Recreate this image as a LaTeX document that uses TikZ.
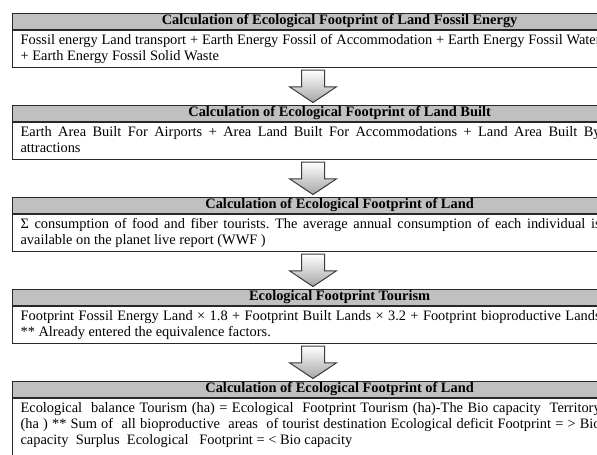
\documentclass[tikz,border=0pt]{standalone}
\usepackage{fontspec}
\setmainfont{Liberation Serif}
\usetikzlibrary{calc}
\frenchspacing
\definecolor{hdrgray}{RGB}{192,192,192}
\definecolor{bordc}{RGB}{40,40,40}
\definecolor{arrc}{RGB}{60,60,60}
\newcommand{\fl}[1]{\strut\makebox[580pt][s]{\spaceskip=0pt\relax\xspaceskip=0pt\relax\frenchspacing #1}}
\newcommand{\blockarr}[2]{%
  \draw[blockarrow] let \p1=(#1.south west), \p2=(#2.north west) in
    (\x1+289.5pt,\y1-2.3pt) -- (\x1+312.5pt,\y1-2.3pt) -- (\x1+312.5pt,\y1-19pt)
    -- (\x1+324.5pt,\y1-19pt) -- (\x1+301pt,\y2+2pt) -- (\x1+277.5pt,\y1-19pt)
    -- (\x1+289.5pt,\y1-19pt) -- cycle;}
\begin{document}
\begin{tikzpicture}[x=1pt,y=-1pt,
  hdr/.style={draw=bordc, fill=hdrgray, line width=1.2pt, minimum width=654pt,
    minimum height=16.5pt, inner sep=0pt, anchor=north west,
    text height=10pt, text depth=3.5pt,
    font=\fontsize{14.4pt}{16pt}\selectfont\bfseries},
  body/.style={draw=bordc, line width=1.2pt, text width=580pt, inner xsep=8pt,
    inner ysep=2.2pt, anchor=north west, align=left,
    font=\fontsize{14.4pt}{16pt}\selectfont,
    execute at begin node={\spaceskip=0pt\relax\xspaceskip=0pt\relax\frenchspacing}},
  blockarrow/.style={draw=arrc, line width=1pt, line join=miter,
    top color=white, bottom color=black!35}]
\useasboundingbox (0,0) rectangle (597,455);
\clip (0,0) rectangle (597,455);
\fill[white] (0,0) rectangle (597,455);

\node[hdr] (h1) at (12,12.5) {Calculation of Ecological Footprint of Land Fossil Energy};
\node[body] (b1) at (h1.south west) {\fl{Fossil energy Land transport + Earth Energy Fossil of Accommodation + Earth Energy Fossil Water}\\\strut + Earth Energy Fossil Solid Waste};

\node[hdr] (h2) at (12,104.5) {Calculation of Ecological Footprint of Land Built};
\node[body] (b2) at (h2.south west) {\fl{Earth Area Built For Airports + Area Land Built For Accommodations + Land Area Built By}\\\strut attractions};

\node[hdr] (h3) at (12,196.5) {Calculation of Ecological Footprint of Land};
\node[body] (b3) at (h3.south west) {\fl{Σ consumption of food and fiber tourists. The average annual consumption of each individual is}\\\strut available on the planet live report (WWF )};

\node[hdr] (h4) at (12,288.5) {Ecological Footprint Tourism};
\node[body] (b4) at (h4.south west) {\fl{Footprint Fossil Energy Land × 1.8 + Footprint Built Lands × 3.2 + Footprint bioproductive Lands}\\\strut ** Already entered the equivalence factors.};

\node[hdr] (h5) at (12,380.5) {Calculation of Ecological Footprint of Land};
\node[body] (b5) at (h5.south west) {\fl{Ecological\ \ balance Tourism (ha) = Ecological\ \ Footprint Tourism (ha)-The Bio capacity\ \ Territory}\\\fl{(ha ) ** Sum of\ \ all bioproductive\ \ areas\ \ of tourist destination Ecological deficit Footprint = > Bio}\\\strut capacity\ \ Surplus\ \ Ecological\ \ \ Footprint = < Bio capacity\\\strut\\\strut};

\blockarr{b1}{h2}
\blockarr{b2}{h3}
\blockarr{b3}{h4}
\blockarr{b4}{h5}
\end{tikzpicture}
\end{document}
